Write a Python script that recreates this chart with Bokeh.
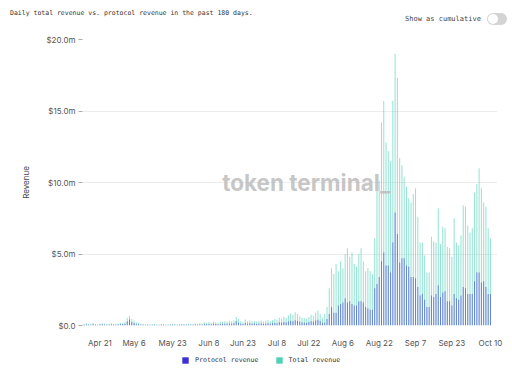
from bokeh.plotting import figure
from bokeh.models import Range1d, FixedTicker, Label, Legend, LegendItem, Div, ColumnDataSource
from bokeh.layouts import column
from bokeh.embed import file_html
from bokeh.resources import INLINE
import datetime as dt

# ---------------- data (values in $ millions, one per day) ----------------
start_date = dt.date(2022, 4, 14)   # first of the 180 days (Oct 10 is the last)

total_rev = [
    # Apr 14 - May 2
    0.12, 0.15, 0.10, 0.13, 0.18, 0.11, 0.09, 0.14, 0.16, 0.12, 0.10, 0.13, 0.15, 0.11, 0.12, 0.14, 0.17, 0.20, 0.25,
    # May 3 - May 8
    0.55, 0.68, 0.45, 0.35, 0.22, 0.18,
    # May 9 - Jun 5
    0.12, 0.10, 0.09, 0.11, 0.08, 0.10, 0.12, 0.09, 0.08, 0.10, 0.11, 0.09, 0.08, 0.10,
    0.12, 0.11, 0.09, 0.10, 0.12, 0.11, 0.10, 0.13, 0.12, 0.11, 0.14, 0.12, 0.15, 0.13,
    # Jun 6 - Jun 19
    0.22, 0.18, 0.25, 0.20, 0.28, 0.22, 0.19, 0.26, 0.24, 0.30, 0.27, 0.33, 0.29, 0.35,
    # Jun 20 - Jun 23
    0.62, 0.45, 0.30, 0.25,
    # Jun 24 - Jul 6
    0.42, 0.30, 0.35, 0.28, 0.32, 0.26, 0.30, 0.35, 0.28, 0.33, 0.38, 0.30, 0.36,
    # Jul 7 - Jul 20
    0.45, 0.40, 0.55, 0.48, 0.62, 0.52, 0.70, 0.85, 0.75, 0.92, 0.80, 0.65, 0.55, 0.50,
    # Jul 21 - Jul 27
    0.45, 0.60, 0.75, 0.68, 0.90, 1.05, 0.80,
    # Jul 28 - Sep 3
    0.55, 0.80, 1.30, 2.60, 4.00, 3.60, 4.30, 3.80, 4.50, 4.00, 5.00, 5.40, 4.80, 5.10,
    4.30, 4.10, 5.00, 5.40, 4.50, 3.80, 4.00, 3.80, 3.60, 6.10, 9.40, 10.10, 14.20, 15.70,
    12.80, 12.20, 11.50, 15.70, 19.00, 17.30, 11.70, 11.20, 10.40, 9.70,
    # Sep 4 - Oct 10
    8.90, 8.60, 9.20, 9.60, 7.60, 5.80, 5.80, 4.90, 3.70, 3.70, 6.20, 5.90, 5.80, 8.20,
    5.70, 6.90, 6.80, 5.50, 5.40, 4.80, 7.50, 5.80, 5.60, 6.30, 8.40, 8.30, 7.00, 6.50,
    6.80, 9.30, 9.90, 11.00, 9.60, 8.60, 8.30, 6.80, 6.10,
]

protocol_rev = [
    0.06, 0.07, 0.05, 0.06, 0.08, 0.05, 0.04, 0.07, 0.08, 0.06, 0.05, 0.06, 0.07, 0.05, 0.06, 0.07, 0.08, 0.10, 0.12,
    0.30, 0.42, 0.25, 0.18, 0.10, 0.08,
    0.05, 0.05, 0.04, 0.05, 0.04, 0.05, 0.06, 0.04, 0.04, 0.05, 0.05, 0.04, 0.04, 0.05,
    0.06, 0.05, 0.04, 0.05, 0.06, 0.05, 0.05, 0.06, 0.06, 0.05, 0.07, 0.06, 0.07, 0.06,
    0.10, 0.08, 0.11, 0.09, 0.12, 0.10, 0.08, 0.11, 0.10, 0.13, 0.12, 0.14, 0.12, 0.15,
    0.30, 0.20, 0.13, 0.11,
    0.18, 0.13, 0.15, 0.12, 0.14, 0.11, 0.13, 0.15, 0.12, 0.14, 0.16, 0.13, 0.15,
    0.18, 0.16, 0.22, 0.19, 0.25, 0.21, 0.28, 0.33, 0.30, 0.36, 0.32, 0.26, 0.22, 0.20,
    0.18, 0.24, 0.30, 0.27, 0.35, 0.40, 0.32,
    0.20, 0.20, 0.45, 0.80, 1.30, 0.90, 0.90, 1.40, 1.50, 1.60, 1.90, 1.60, 1.70, 1.50,
    1.40, 1.40, 1.70, 1.70, 1.60, 1.30, 1.20, 1.10, 1.10, 2.60, 2.90, 3.40, 4.50, 5.10,
    4.20, 4.20, 3.70, 5.80, 7.90, 6.40, 4.40, 4.70, 4.70, 4.20,
    4.10, 3.40, 3.40, 3.30, 2.70, 2.10, 2.20, 1.80, 1.30, 1.30, 2.10, 2.00, 2.20, 2.80,
    2.00, 2.30, 2.40, 1.70, 1.70, 1.40, 2.20, 1.90, 1.80, 2.10, 2.70, 2.60, 2.20, 2.20,
    2.20, 3.10, 3.70, 3.70, 3.00, 3.10, 2.70, 2.20, 2.20,
]

x_tick_labels = ["Apr 21", "May 6", "May 23", "Jun 8", "Jun 23", "Jul 8",
                 "Jul 22", "Aug 6", "Aug 22", "Sep 7", "Sep 23", "Oct 10"]
y_tick_values = [0, 5, 10, 15, 20]
y_tick_labels = ["$0.0", "$5.0m", "$10.0m", "$15.0m", "$20.0m"]
series_names = ["Protocol revenue", "Total revenue"]

assert len(total_rev) == 180 and len(protocol_rev) == 180

days = list(range(len(total_rev)))
tick_days = [(dt.datetime.strptime(f"{s} {start_date.year}", "%b %d %Y").date() - start_date).days
             for s in x_tick_labels]

SANS = "Inter"
MONO = "DejaVu Sans Mono"
TEAL = "#4fd1b5"
BLUE = "#3a30d6"
W = 512

# ---------------- header (title + toggle) ----------------
header_html = f"""
<div style="position:relative;width:{W}px;height:30px;font-family:'{MONO}',monospace;color:#333;">
  <div style="position:absolute;left:10px;top:8px;font-size:6.5px;line-height:10px;white-space:nowrap;">Daily total revenue vs. protocol revenue in the past 180 days.</div>
  <div style="position:absolute;left:405px;top:14px;font-size:7px;line-height:10px;white-space:nowrap;color:#444;">Show as cumulative</div>
  <div style="position:absolute;left:487px;top:13px;width:20px;height:12px;border-radius:6px;background:#d4d4d4;">
    <div style="position:absolute;left:1px;top:1px;width:10px;height:10px;border-radius:50%;background:#ffffff;"></div>
  </div>
</div>
"""
header = Div(text=header_html, width=W, height=30, margin=(0, 0, 0, 0))

# ---------------- chart ----------------
src = ColumnDataSource(dict(day=days, total=total_rev, protocol=protocol_rev))

p = figure(width=W, height=320, output_backend="svg", toolbar_location=None,
           x_range=Range1d(-0.7, 182.1), y_range=Range1d(0, 20),
           min_border_top=9, min_border_left=82, min_border_right=15, min_border_bottom=25,
           margin=(0, 0, 0, 0))
p.outline_line_color = None
p.background_fill_color = "white"
p.border_fill_color = "white"

p.vbar(x="day", top="total", width=0.45, source=src, fill_color=TEAL, fill_alpha=0.6, line_color=None)
p.vbar(x="day", top="protocol", width=0.45, source=src, fill_color=BLUE, fill_alpha=0.55, line_color=None)

# watermark
p.add_layout(Label(x=98, y=10, text="token terminal_", text_align="center", text_baseline="middle",
                   text_font=SANS, text_font_size="22.5px", text_font_style="bold",
                   text_color="#bcbcbc", text_alpha=0.85))

# axes
p.xgrid.grid_line_color = None
p.ygrid.grid_line_color = "#ececec"
p.ygrid.ticker = FixedTicker(ticks=y_tick_values)

p.yaxis.ticker = FixedTicker(ticks=y_tick_values)
p.yaxis.major_label_overrides = {v: l for v, l in zip(y_tick_values, y_tick_labels)}
p.yaxis.axis_line_color = None
p.yaxis.major_tick_out = 4
p.yaxis.major_tick_in = 0
p.yaxis.major_tick_line_color = "#aaaaaa"
p.yaxis.minor_tick_line_color = None
p.yaxis.major_label_standoff = 3
p.yaxis.major_label_text_font = SANS
p.yaxis.major_label_text_font_size = "8px"
p.yaxis.major_label_text_color = "#555555"
p.yaxis.axis_label = "Revenue"
p.yaxis.axis_label_text_font = SANS
p.yaxis.axis_label_text_font_size = "8px"
p.yaxis.axis_label_text_font_style = "normal"
p.yaxis.axis_label_text_color = "#444444"
p.yaxis.axis_label_standoff = 12

p.xaxis.ticker = FixedTicker(ticks=tick_days)
p.xaxis.major_label_overrides = {d: l for d, l in zip(tick_days, x_tick_labels)}
p.xaxis.axis_line_color = None
p.xaxis.major_tick_line_color = None
p.xaxis.minor_tick_line_color = None
p.xaxis.major_label_standoff = 6
p.xaxis.major_label_text_font = SANS
p.xaxis.major_label_text_font_size = "8px"
p.xaxis.major_label_text_color = "#555555"

# ---------------- legend strip ----------------
p2 = figure(width=W, height=18, output_backend="svg", toolbar_location=None,
            x_range=Range1d(0, 1), y_range=Range1d(0, 1),
            x_axis_location=None, y_axis_location=None,
            min_border=0, margin=(0, 0, 0, 0))
p2.outline_line_color = None
p2.xgrid.grid_line_color = None
p2.ygrid.grid_line_color = None
# swatch renderers: their single bar lies outside the visible range, only the legend shows them
leg_src = ColumnDataSource(dict(x=[-10], top=[-10]))
r_p = p2.vbar(x="x", top="top", width=1, source=leg_src, fill_color=BLUE, line_color=None)
r_t = p2.vbar(x="x", top="top", width=1, source=leg_src, fill_color=TEAL, line_color=None)
legend = Legend(items=[LegendItem(label=series_names[0], renderers=[r_p]),
                       LegendItem(label=series_names[1], renderers=[r_t])],
                orientation="horizontal", location=(99, 4),
                glyph_width=8, glyph_height=8, label_standoff=6, spacing=16,
                padding=2, margin=0, border_line_color=None, background_fill_alpha=0,
                label_text_font=MONO, label_text_font_size="6.6px", label_text_color="#333333",
                label_height=8)
p2.add_layout(legend, "center")

layout = column(header, p, p2, spacing=0)
open("out.html", "w").write(file_html(layout, INLINE))
